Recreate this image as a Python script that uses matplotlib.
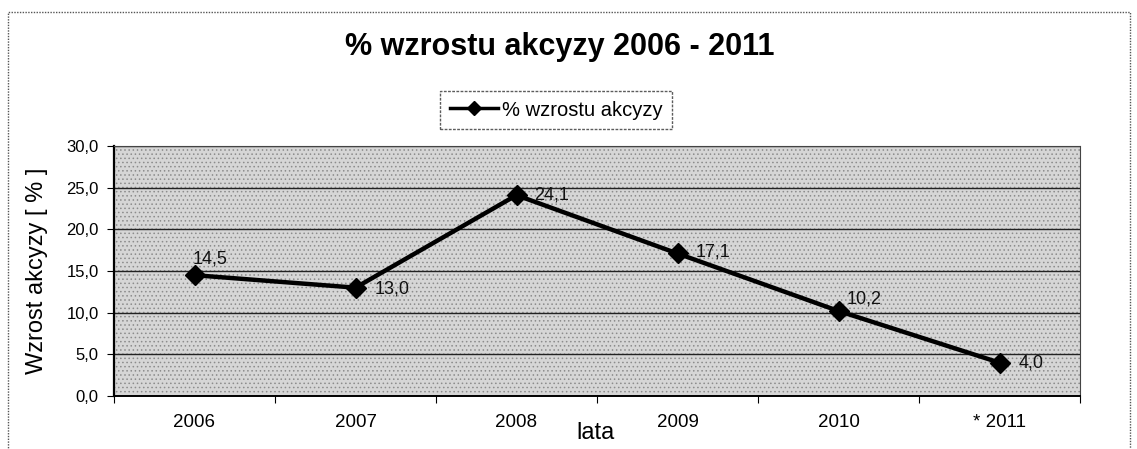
import matplotlib.pyplot as plt
from matplotlib.patches import Rectangle
from matplotlib.lines import Line2D

plt.rcParams['font.family'] = ['Liberation Sans', 'DejaVu Sans']
plt.rcParams['hatch.linewidth'] = 0.6

years = ['2006', '2007', '2008', '2009', '2010', '* 2011']
growth = [14.5, 13.0, 24.1, 17.1, 10.2, 4.0]
value_labels = ['14,5', '13,0', '24,1', '17,1', '10,2', '4,0']
y_ticks = [0, 5, 10, 15, 20, 25, 30]
y_tick_labels = ['0,0', '5,0', '10,0', '15,0', '20,0', '25,0', '30,0']

# label offsets in points (dx, dy) like Excel placed them
label_offsets = [(-1, 12), (14, -1), (13, 0), (13, 1), (6, 9), (14, 0)]

fig = plt.figure(figsize=(11.37, 4.49), dpi=100)
fig.patch.set_facecolor('white')

# outer chart border (dotted, scanned look)
fig.patches.append(Rectangle((8 / 1137, -0.05), 1122 / 1137, 1 - 12 / 449 + 0.05,
                             transform=fig.transFigure, fill=False,
                             edgecolor='#555555', linewidth=1.0,
                             linestyle=(0, (1, 1))))

ax = fig.add_axes([114 / 1137, 53 / 449, 966 / 1137, 250 / 449])
ax.set_facecolor('#d6d6d6')
ax.add_patch(Rectangle((0, 0), 1, 1, transform=ax.transAxes, fill=False,
                       hatch='....', edgecolor='#8c8c8c', linewidth=0, zorder=0))

x = list(range(len(years)))
ax.plot(x, growth, color='black', linewidth=3.2, marker='D', markersize=10,
        markerfacecolor='black', markeredgecolor='black', zorder=3,
        label='% wzrostu akcyzy')

for xi, yi, txt, (dx, dy) in zip(x, growth, value_labels, label_offsets):
    ax.annotate(txt, (xi, yi), xytext=(dx, dy), textcoords='offset points',
                fontsize=13, ha='left', va='center', color='#111111', zorder=4)

ax.set_xlim(-0.5, len(years) - 0.5)
ax.set_ylim(0, 30)
ax.set_yticks(y_ticks)
ax.set_yticklabels(y_tick_labels, fontsize=12)
ax.yaxis.grid(True, color='#222222', linewidth=1.0)
ax.set_axisbelow(True)

ax.set_xticks([i - 0.5 for i in range(len(years) + 1)])
ax.set_xticklabels([])
ax.set_xticks(x, minor=True)
ax.set_xticklabels(years, minor=True, fontsize=13.5)
ax.tick_params(axis='x', which='minor', length=0, pad=13)
ax.tick_params(axis='x', which='major', length=5, direction='out')
ax.tick_params(axis='y', length=5, direction='out', pad=6)

for side in ['top', 'right']:
    ax.spines[side].set_color('#444444')
    ax.spines[side].set_linestyle((0, (1, 1)))
ax.spines['left'].set_linewidth(1.6)
ax.spines['bottom'].set_linewidth(1.4)

ax.set_ylabel('Wzrost akcyzy [ % ]', fontsize=17)
ax.yaxis.set_label_coords(-(114 - 48) / 966, 0.5)
fig.text(596 / 1137, 1 - 433 / 449, 'lata', fontsize=17, ha='center', va='center')

fig.text(560 / 1137, 1 - 47 / 449, '% wzrostu akcyzy 2006 - 2011',
         fontsize=22, fontweight='bold', ha='center', va='center')

handle = Line2D([], [], color='black', linewidth=2.5, marker='D', markersize=7)
leg = fig.legend([handle], ['% wzrostu akcyzy'], loc='center',
                 bbox_to_anchor=(556 / 1137, 1 - 110 / 449), fontsize=14.5,
                 frameon=True, fancybox=False, handlelength=2.4,
                 handletextpad=0.2, borderpad=0.45)
leg.get_frame().set_edgecolor('#333333')
leg.get_frame().set_linestyle((0, (2, 1)))
leg.get_frame().set_linewidth(1.0)

fig.savefig('out.png', dpi=100)
